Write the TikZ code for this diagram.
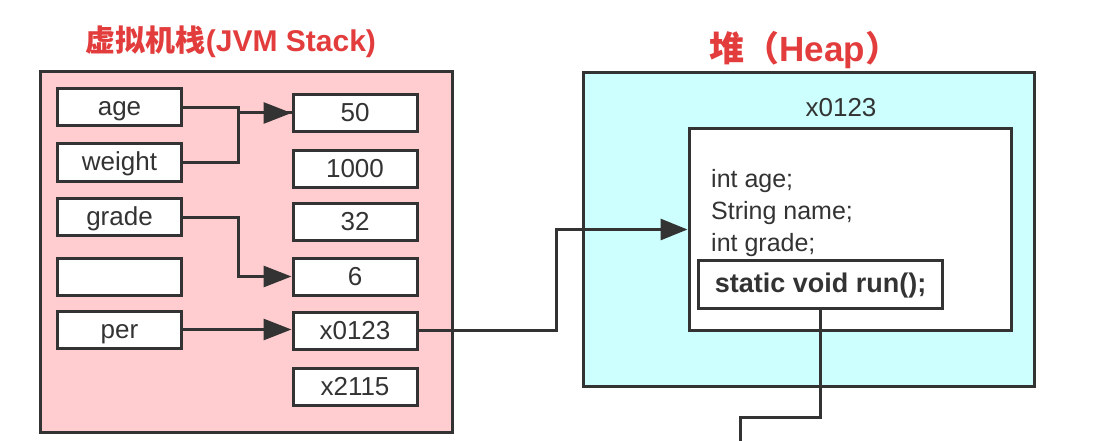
\documentclass[tikz,border=0pt]{standalone}
\usepackage{fontspec}
\setmainfont{Liberation Sans}
\newfontfamily\cjk{Noto Sans CJK SC}
\usetikzlibrary{arrows.meta}
\definecolor{stackpink}{RGB}{255,204,207}
\definecolor{heapcyan}{RGB}{204,255,253}
\definecolor{titlered}{RGB}{226,60,60}
\definecolor{linegray}{RGB}{51,51,51}

\begin{document}
\begin{tikzpicture}[
    x=1pt, y=-1pt,
    every node/.style={text=linegray, font=\fontsize{26}{30}\selectfont},
    area/.style={draw=linegray, line width=3pt, inner sep=0pt},
    cell/.style={draw=linegray, fill=white, line width=3pt, minimum width=124pt, minimum height=37pt, inner sep=0pt, text height=21pt, text depth=4pt},
    link/.style={draw=linegray, line width=3pt, -{Triangle[length=28pt, width=21pt]}},
    wire/.style={draw=linegray, line width=3pt},
    title/.style={text=titlered, font=\fontsize{30}{36}\selectfont\bfseries}
  ]
  \fill[white] (0,0) rectangle (1108,441);
  \useasboundingbox (0,0) rectangle (1108,441);

  % Pilha
  \node[title] (stacktitle) at (231,42) {{\cjk 虚拟机栈}(JVM Stack)};
  \node[area, fill=stackpink, minimum width=412pt, minimum height=360pt] (stack) at (246,252) {};
  \node[cell] (age)    at (119.5,107.5) {age};
  \node[cell] (weight) at (119.5,162.5) {weight};
  \node[cell] (grade)  at (119.5,217)   {grade};
  \node[cell] (blank)  at (119.5,276.5) {};
  \node[cell] (per)    at (119.5,329.5) {per};
  \node[cell] (v50)    at (355,113)   {50};
  \node[cell] (v1000)  at (355,169)   {1000};
  \node[cell] (v32)    at (355,222)   {32};
  \node[cell] (v6)     at (355,276.5) {6};
  \node[cell] (v0123)  at (355,330.5) {x0123};
  \node[cell] (v2115)  at (355,386.5) {x2115};
  \draw[wire] (weight.east) -- ++(55,0) |- (v50.west);
  \draw[link] (age.east) -- ++(55,0) |- (v50.west);
  \draw[link] (grade.east) -- ++(55,0) |- (v6.west);
  \draw[link] (per.east) -- (per.east -| v0123.west);

  % Heap
  \node[title, font=\fontsize{35}{40}\selectfont\bfseries] (heaptitle) at (805,50) {{\cjk 堆（}Heap{\cjk ）}};
  \node[area, fill=heapcyan, minimum width=451pt, minimum height=313pt] (heap) at (808.5,229.5) {};
  \node (objlabel) at (841,108) {x0123};
  \node[area, fill=white, minimum width=322pt, minimum height=201pt] (obj) at (850,229.5) {};
  \node[anchor=west, align=left, inner sep=0pt, font=\fontsize{25}{32}\selectfont] (fields) at (711,213) {int age;\\String name;\\int grade;};
  \node[cell, minimum width=244pt, minimum height=48pt, font=\fontsize{27}{30}\selectfont\bfseries] (run) at (820.5,284) {static void run();};
  \draw[link, -{Triangle[length=27pt, width=21pt]}] (v0123.east) -- ++(138,0) |- (obj.west);
  \coordinate (exit) at (740,441);
  \draw[wire] (run.south) -- ++(0,108) -| (exit);
\end{tikzpicture}
\end{document}
